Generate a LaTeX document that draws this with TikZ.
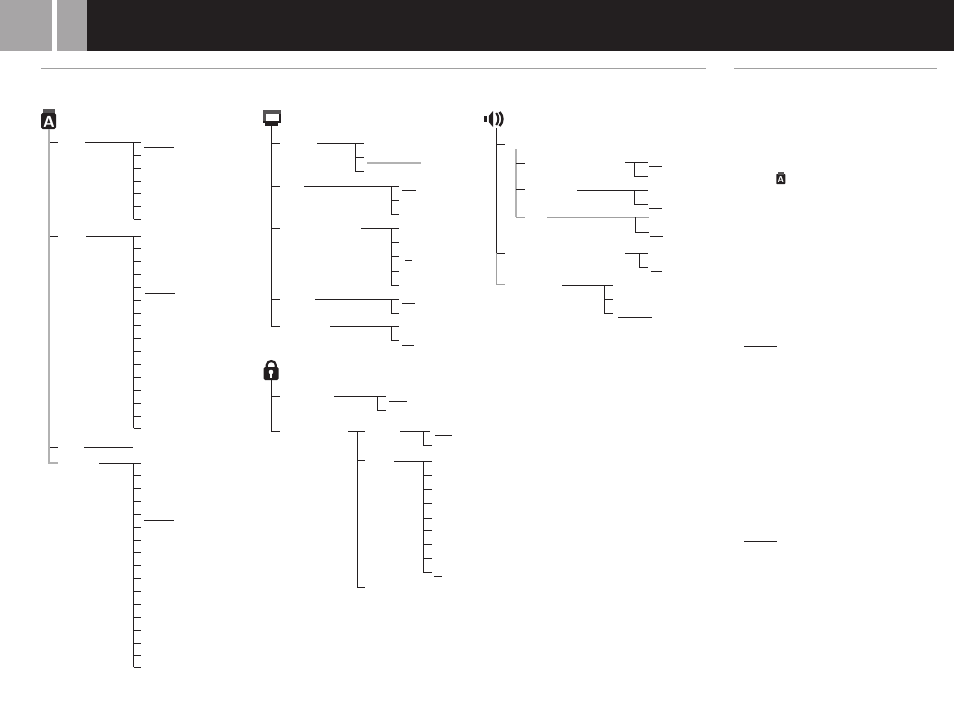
\documentclass[tikz,border=0pt]{standalone}
\usepackage{tikz}
\usepackage{xcolor}
\definecolor{headdark}{RGB}{35,31,32}
\definecolor{headgray}{RGB}{167,165,166}
\definecolor{rulegray}{RGB}{160,160,160}
\definecolor{trunkgray}{RGB}{178,178,178}
\definecolor{icongray}{RGB}{85,83,84}
\begin{document}
\begin{tikzpicture}[x=0.75pt, y=-0.75pt,
          wire/.style={draw=headdark, line width=0.85pt},
          palewire/.style={draw=trunkgray, line width=1.3pt},
          midwire/.style={draw=rulegray, line width=1pt},
          rulebar/.style={draw=rulegray, line width=0.8pt},
          iconbox/.style={fill=headdark, rounded corners=1.2pt},
          iconletter/.style={text=white, inner sep=0pt, font=\sffamily\bfseries}
        ]
        \useasboundingbox (0,0) rectangle (954,715);

        % header
        \fill[headgray] (0,0) rectangle (52,51);
        \fill[headgray] (57,0) rectangle (87,51);
        \fill[headdark] (87,0) rectangle (954,51);
        \draw[rulebar] (41,68.4) -- (706,68.4);
        \draw[rulebar] (734,68.4) -- (937,68.4);

        % language icon
        \fill[icongray] (42.5,109) rectangle (54.5,114);
        \fill[iconbox] (41,113) rectangle (56,129);
        \node[iconletter, font=\sffamily\bfseries\fontsize{12}{12}\selectfont] (iconLang) at (49,121.5) {A};
        \coordinate (langTop) at (49,129);
        \coordinate (langEnd) at (49,463);
        \draw[palewire, line width=1.5pt] (langTop) -- (langEnd) -- (57.5,463);
        \foreach \y in {142.3, 236.3, 447.3} {
            \draw[wire] (50,\y) -- (58,\y);
          }
        \draw[wire] (85,142.3) -- (141,142.3);
        \draw[wire] (133.5,142.3) -- (133.5,219.3);
        \foreach \y in {155.3, 168.3, 181.3, 193.3, 206.3, 219.3} {
            \draw[wire] (133.5,\y) -- (141,\y);
          }
        \draw[wire] (144,147.3) -- (174,147.3);
        \draw[wire] (86,236.3) -- (141,236.3);
        \draw[wire] (133.5,236.3) -- (133.5,428.3);
        \foreach \y in {248.3, 261.3, 274.3, 287.3, 300.3, 313.3, 325.3, 338.3,
            351.3, 364.3, 377.3, 390.3, 403.3, 416.3, 428.3} {
            \draw[wire] (133.5,\y) -- (141,\y);
          }
        \draw[wire] (145,293.3) -- (175,293.3);
        \draw[wire] (84,447.3) -- (133,447.3);
        \draw[wire] (99,463.3) -- (141,463.3);
        \draw[wire] (133.5,463.3) -- (133.5,667.3);
        \foreach \y in {475.3, 488.3, 501.3, 514.3, 527.3, 540.3, 552.3, 565.3,
            578.3, 591.3, 604.3, 617.3, 630.3, 643.3, 655.3, 667.3} {
            \draw[wire] (133.5,\y) -- (141,\y);
          }
        \draw[wire] (144,520.3) -- (174,520.3);

        % screen icon
        \fill[headdark] (263,110) rectangle (281,123);
        \fill[icongray] (263,110) rectangle (281,114);
        \fill[icongray] (263,110) rectangle (265.5,121);
        \fill[white] (265.5,114) rectangle (278.5,121);
        \fill[headdark] (265,123) rectangle (278,126);
        \coordinate (iconScreen) at (271.3,126);
        \coordinate (screenEnd) at (271.3,326.3);
        \draw[wire] (iconScreen) -- (screenEnd) -- (279.7,326.3);
        \foreach \y in {143.3, 186.3, 228.3, 299.3} {
            \draw[wire] (271.3,\y) -- (279.7,\y);
          }
        \draw[wire] (317,143.3) -- (363.7,143.3);
        \draw[wire] (355.7,143.3) -- (355.7,171.3) -- (363.7,171.3);
        \draw[wire] (355.7,157.3) -- (363.7,157.3);
        \draw[palewire] (367,162.7) -- (421,162.7);
        \draw[wire] (304,186.3) -- (399,186.3);
        \draw[wire] (391.3,186.3) -- (391.3,214.3) -- (399,214.3);
        \draw[wire] (391.3,200.3) -- (399,200.3);
        \draw[wire] (402,190.3) -- (416,190.3);
        \draw[wire] (361,228.3) -- (399,228.3);
        \draw[wire] (391.3,228.3) -- (391.3,285.3) -- (399,285.3);
        \foreach \y in {242.3, 256.3, 271.3} {
            \draw[wire] (391.3,\y) -- (399,\y);
          }
        \draw[wire] (405,260.3) -- (412,260.3);
        \draw[wire] (315,299.3) -- (399,299.3);
        \draw[wire] (391.3,299.3) -- (391.3,313.3) -- (399,313.3);
        \draw[wire] (402,303.3) -- (415,303.3);
        \draw[wire] (330,326.3) -- (399,326.3);
        \draw[wire] (391.3,326.3) -- (391.3,340.3) -- (399,340.3);
        \draw[wire] (402,345.3) -- (414,345.3);

        % lock icon
        \draw[headdark, line width=1.6pt] (266.8,369) -- (266.8,365) .. controls (266.8,359.8) and (275.8,359.8) .. (275.8,365) -- (275.8,369);
        \fill[iconbox] (263.5,367) rectangle (278.7,380);
        \fill[white] (271,372) circle[radius=2.3];
        \fill[white] (270,372) rectangle (272,378);
        \coordinate (iconLock) at (271.3,380);
        \coordinate (lockEnd) at (271.3,431.3);
        \draw[wire] (iconLock) -- (lockEnd) -- (279.7,431.3);
        \draw[wire] (271.3,396.3) -- (279.7,396.3);
        \draw[wire] (334,396.3) -- (386,396.3);
        \draw[wire] (377.3,396.3) -- (377.3,410.3) -- (386,410.3);
        \draw[wire] (389,401.3) -- (407,401.3);
        \draw[wire] (348.3,431.3) -- (365,431.3);
        \draw[wire] (357.7,431.3) -- (357.7,587.3) -- (365,587.3);
        \draw[wire] (357.7,460.3) -- (365,460.3);
        \draw[wire] (400,431.3) -- (430,431.3);
        \draw[wire] (423.3,431.3) -- (423.3,445.3) -- (432,445.3);
        \draw[wire] (435,435.3) -- (452,435.3);
        \draw[wire] (394,461.3) -- (432,461.3);
        \draw[wire] (423.3,461.3) -- (423.3,572.3) -- (432,572.3);
        \foreach \y in {475.3, 489.3, 503.3, 518.3, 530.3, 544.3, 558.3} {
            \draw[wire] (423.3,\y) -- (432,\y);
          }
        \draw[wire] (434,576.3) -- (442,576.3);

        % sound icon
        \fill[headdark] (484,116) rectangle (487.3,122);
        \fill[headdark] (488.8,116) -- (493,111) -- (493,127) -- (488.8,122) -- cycle;
        \draw[headdark, line width=1.5pt] (496.2,113) .. controls (499,116) and (499,122) .. (496.2,125);
        \draw[headdark, line width=1.8pt] (499.5,112) .. controls (503.5,116) and (503.5,122) .. (499.5,126);
        \coordinate (iconSound) at (496.3,128.3);
        \coordinate (soundMid) at (496.3,253.3);
        \coordinate (soundEnd) at (496.3,284.3);
        \draw[wire] (iconSound) -- (soundMid) -- (505,253.3);
        \draw[midwire] (soundMid) -- (soundEnd) -- (505,284.3);
        \draw[wire] (496.3,144.3) -- (505,144.3);
        \draw[palewire] (516.3,149.3) -- (516.3,217.3);
        \draw[midwire] (516.3,217.3) -- (525,217.3);
        \draw[wire] (516.3,163.3) -- (525,163.3);
        \draw[wire] (516.3,189.3) -- (525,189.3);
        \draw[wire] (625,162.3) -- (648,162.3);
        \draw[wire] (634.3,162.3) -- (634.3,176.3) -- (648,176.3);
        \draw[wire] (649,166.3) -- (662,166.3);
        \draw[wire] (577,190.3) -- (648,190.3);
        \draw[wire] (634.3,190.3) -- (634.3,204.3) -- (648,204.3);
        \draw[wire] (649,208.3) -- (662,208.3);
        \draw[midwire] (547.3,217.3) -- (648.7,217.3);
        \draw[wire] (635.3,217.3) -- (635.3,232.3) -- (648.7,232.3);
        \draw[wire] (650,236.3) -- (663,236.3);
        \draw[wire] (625,253.3) -- (648,253.3);
        \draw[wire] (639.3,253.3) -- (639.3,267.3) -- (648,267.3);
        \draw[wire] (651,271.3) -- (662,271.3);
        \draw[wire] (562,285.3) -- (613,285.3);
        \draw[wire] (604.3,285.3) -- (604.3,313.3) -- (613,313.3);
        \draw[wire] (604.3,299.3) -- (613,299.3);
        \draw[wire] (618,317.3) -- (652,317.3);

        % right column
        \fill[iconbox, rounded corners=0.5pt] (776.3,174) rectangle (785.3,184);
        \fill[icongray] (777.5,171.7) rectangle (784,174.5);
        \node[iconletter, font=\sffamily\bfseries\fontsize{6.5}{6.5}\selectfont] (iconLangSmall) at (780.8,179.5) {A};
        \draw[wire] (744,346.3) -- (777,346.3);
        \draw[wire] (744,541.3) -- (777,541.3);
      \end{tikzpicture}
\end{document}
